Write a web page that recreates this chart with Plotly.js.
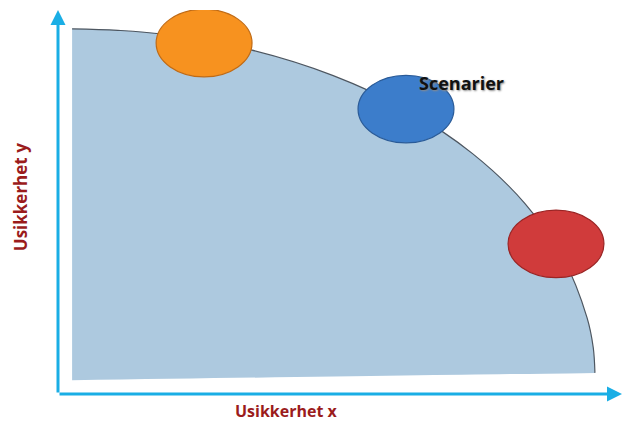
<!DOCTYPE html>
<html>
<head>
<meta charset="utf-8">
<script src="https://cdn.plot.ly/plotly-3.0.1.min.js"></script>
<style>
  html, body { margin: 0; padding: 0; background: #ffffff; }
  #chart { width: 623px; height: 425px; }
</style>
</head>
<body>
<div id="chart"></div>
<script>
// Frontier of the uncertainty space (arbitrary units 0..10)
var frontierX = [0.25, 1.06, 1.86, 3.42, 4.88, 6.21, 7.35, 8.28, 8.96, 9.38, 9.49, 9.52];
var frontierY = [9.51, 9.47, 9.37, 8.96, 8.29, 7.38, 6.26, 4.96, 3.53, 1.99, 1.21, 0.55];
var baseX = [9.52, 0.25];
var baseY = [0.55, 0.36];

// Scenarios sitting on the frontier
var scenarioX = [2.59, 6.17, 8.83];
var scenarioY = [9.14, 7.42, 3.91];
var scenarioFill = ['#f7921f', '#3c7dcb', '#d03b3b'];
var scenarioEdge = ['#c06a14', '#2a5b98', '#9a2424'];
var scenarioLabel = 'Scenarier';

var xTitle = 'Usikkerhet x';
var yTitle = 'Usikkerhet y';

var COLORS = {
    AXIS: '#1aaee5',
    AREA: '#adc9df',
    EDGE: '#4d5660',
    TITLE: '#9b1c1c'
};
var FONT = '"Open Sans", Lato, sans-serif';

// area under the frontier, closed along the bottom
var areaTrace = {
    x: frontierX.concat(baseX), y: frontierY.concat(baseY),
    type: 'scatter', mode: 'lines', fill: 'toself',
    fillcolor: COLORS.AREA, line: { width: 0, shape: 'spline' },
    hoverinfo: 'skip'
};
var edgeTrace = {
    x: frontierX, y: frontierY, type: 'scatter', mode: 'lines',
    line: { color: COLORS.EDGE, width: 1.2, shape: 'spline' },
    hoverinfo: 'skip'
};

// scenario ellipses as shapes, half-widths in data units
var rx = 0.85, ry = 0.88;
var shapes = scenarioX.map(function (cx, i) {
    var cy = scenarioY[i];
    return {
        type: 'circle', xref: 'x', yref: 'y', layer: 'above',
        x0: cx - rx, x1: cx + rx, y0: cy - ry, y1: cy + ry,
        fillcolor: scenarioFill[i], line: { color: scenarioEdge[i], width: 1.2 }
    };
});

var arrow = { arrowhead: 2, arrowsize: 1, arrowwidth: 3, arrowcolor: COLORS.AXIS,
              showarrow: true, text: '', xref: 'x', yref: 'y', axref: 'x', ayref: 'y' };

var annotations = [
    Object.assign({ x: 0, y: 10, ax: 0, ay: 0 }, arrow),
    Object.assign({ x: 10, y: 0, ax: 0, ay: 0 }, arrow),
    {
        x: 6.37, y: 8.1, xref: 'x', yref: 'y', xanchor: 'left', yanchor: 'middle',
        text: '<b>' + scenarioLabel + '</b>', showarrow: false,
        font: { family: FONT, size: 18, color: '#111111', shadow: '1px 1px 2px #8a8a8a' }
    },
    {
        x: 0.406, y: -0.078, xref: 'paper', yref: 'paper', xanchor: 'center', yanchor: 'bottom',
        text: '<b>' + xTitle + '</b>', showarrow: false,
        font: { family: FONT, size: 16, color: COLORS.TITLE }
    },
    {
        x: -0.067, y: 0.513, xref: 'paper', yref: 'paper', xanchor: 'center', yanchor: 'middle',
        text: '<b>' + yTitle + '</b>', showarrow: false, textangle: -90,
        font: { family: FONT, size: 17, color: COLORS.TITLE }
    }
];

var layout = {
    width: 623, height: 425,
    margin: { l: 58, r: 1, t: 10, b: 31 },
    paper_bgcolor: '#ffffff', plot_bgcolor: '#ffffff',
    showlegend: false,
    xaxis: { range: [0, 10], visible: false },
    yaxis: { range: [0, 10], visible: false },
    shapes: shapes,
    annotations: annotations
};

Plotly.newPlot('chart', [areaTrace, edgeTrace], layout, { displayModeBar: false, staticPlot: true });
</script>
</body>
</html>
